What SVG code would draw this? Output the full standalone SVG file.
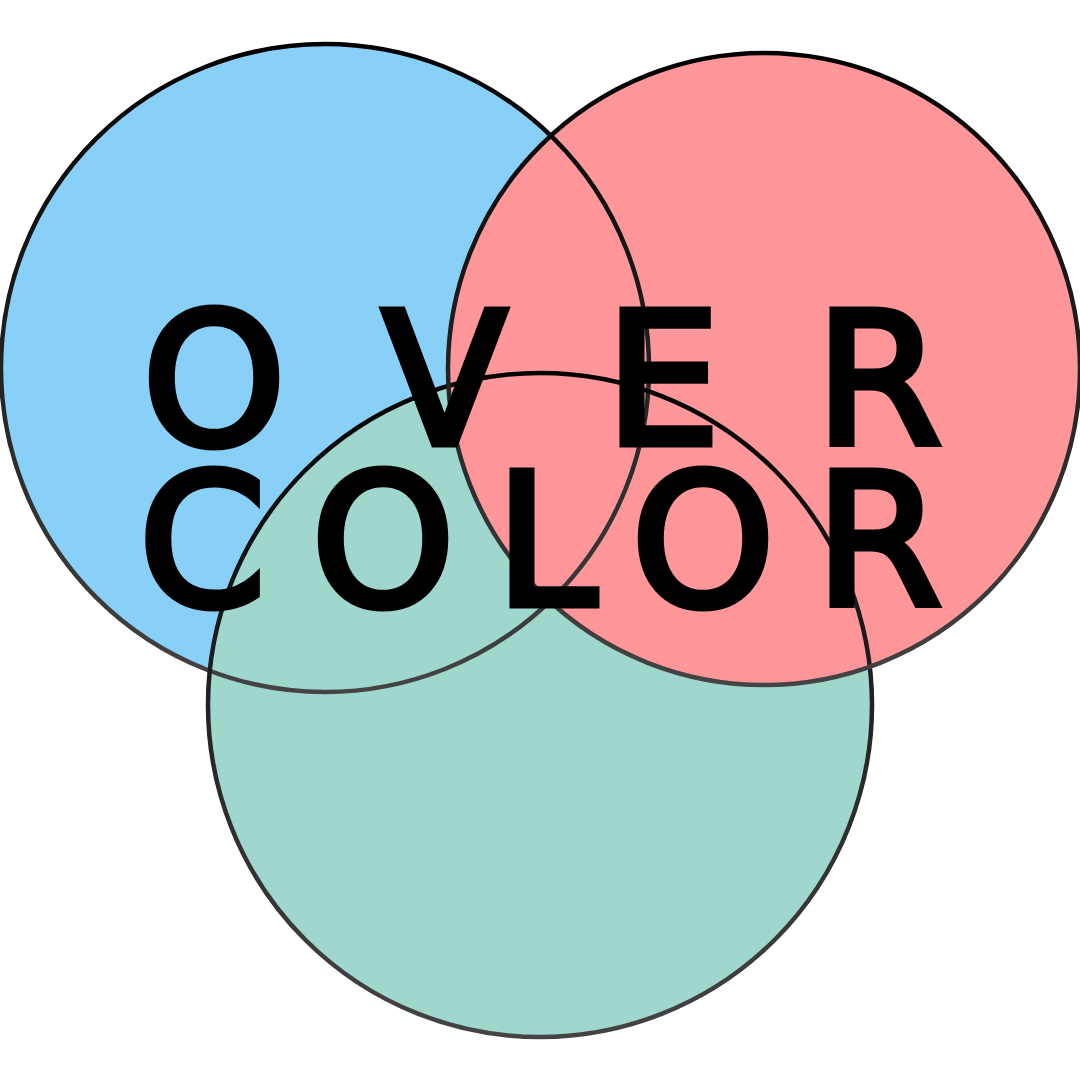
<svg xmlns="http://www.w3.org/2000/svg" width="1080" height="1080" viewBox="0 0 1080 1080">
  <defs>
    <linearGradient id="edge" x1="0" y1="0" x2="0" y2="1">
      <stop offset="0" stop-color="#000000"/>
      <stop offset="1" stop-color="#444444"/>
    </linearGradient>
    <style>
      .ring { fill: none; stroke: url(#edge); stroke-width: 4.5; }
      .word { font-family: "DejaVu Sans", sans-serif; font-size: 183px; fill: #000; stroke: #000; stroke-width: 7; stroke-linejoin: miter; }
    </style>
  </defs>
  <rect width="1080" height="1080" fill="#ffffff"/>
  <g id="fills">
    <circle id="blue-fill" cx="325" cy="368" r="324" fill="#89D0F8"/>
    <circle id="green-fill" cx="540" cy="705" r="332" fill="#9FD7CD"/>
    <circle id="red-fill" cx="764" cy="369" r="316" fill="#FF969A"/>
  </g>
  <g id="outlines">
    <circle class="ring" cx="325" cy="368" r="324"/>
    <circle class="ring" cx="540" cy="705" r="332"/>
    <circle class="ring" cx="764" cy="369" r="316"/>
  </g>
  <g id="title">
    <text class="word" x="142 382 605 815" y="443.5">OVER</text>
    <text class="word" x="138.5 311 495 631 815" y="604.5">COLOR</text>
  </g>
</svg>
